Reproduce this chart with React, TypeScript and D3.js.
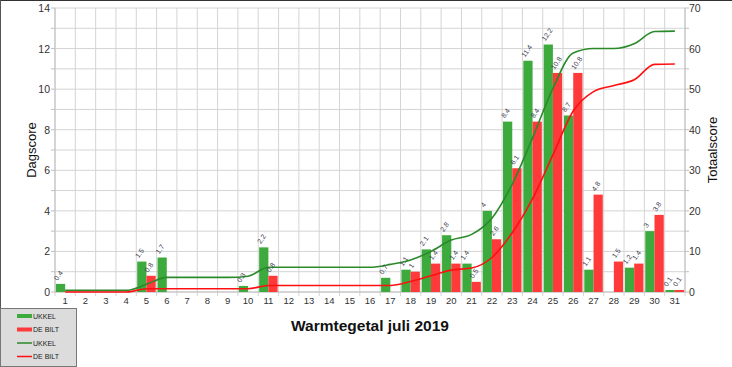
import React from "react";
import * as d3 from "d3";

const days = d3.range(1, 32).map(String);
const ukkelDaily = [0.4,0,0,0,1.5,1.7,0,0,0,0.3,2.2,0,0,0,0,0,0.7,1.1,2.1,2.8,1.4,4,8.4,11.4,12.2,8.7,1.1,0,1.2,3,0.1];
const deBiltDaily = [0,0,0,0,0.8,0,0,0,0,0,0.8,0,0,0,0,0,0,1,1.4,1.4,0.5,2.6,6.1,8.4,10.8,10.8,4.8,1.5,1.4,3.8,0.1];
const leftTicks = [0,2,4,6,8,10,12,14];
const rightTicks = [0,10,20,30,40,50,60,70];
const seriesNames = ["UKKEL", "DE BILT"];

const W = 732, H = 367;
const L = 55, R = 685, T = 8, B = 292;
const barColors = ["#3daa3d", "#ff3a3a"];
const lineColors = ["#2a8a2a", "#ff1010"];

function cumsum(a: number[]) {
  let s = 0;
  return a.map((v) => Math.round((s += v) * 10) / 10);
}

export default function App() {
  const x = d3.scaleBand<string>().domain(days).range([L, R]).padding(0);
  const bw = x.bandwidth();
  const xs = d3.scaleBand<string>().domain(["0", "1"]).range([0, bw]).paddingInner(0).paddingOuter(0.1);
  const yL = d3.scaleLinear().domain([0, 14]).range([B, T]);
  const yR = d3.scaleLinear().domain([0, 70]).range([B, T]);
  const dailies = [ukkelDaily, deBiltDaily];
  const cums = dailies.map(cumsum);
  const line = d3.line<number>()
    .x((_, i) => (x(days[i]) as number) + bw / 2)
    .y((d) => yR(d))
    .curve(d3.curveMonotoneX);
  const fmt = (v: number) => (Number.isInteger(v) ? String(v) : v.toFixed(1));

  return (
    <svg width={W} height={H} style={{ position: "absolute", left: 0, top: 0, fontFamily: "Liberation Sans, Arial, sans-serif" }}>
      <rect x={0} y={0} width={W} height={H} fill="#fff" />
      <line x1={0} x2={W} y1={0.5} y2={0.5} stroke="#333" />
      <line x1={0.5} x2={0.5} y1={0} y2={308} stroke="#555" />
      {d3.range(0, 15).map((v) => (
        <line key={"h" + v} x1={L} x2={R} y1={yL(v)} y2={yL(v)} stroke="#d4d4d4" />
      ))}
      {d3.range(0, 32).map((i) => {
        const xx = L + i * bw;
        return <line key={"v" + i} x1={xx} x2={xx} y1={T} y2={B + 4} stroke="#d4d4d4" />;
      })}
      <line x1={L} x2={L} y1={T} y2={B} stroke="#c0c0c0" />
      <line x1={R} x2={R} y1={T} y2={B} stroke="#c0c0c0" />
      <line x1={L} x2={R} y1={B} y2={B} stroke="#c0c0c0" />
      {d3.range(0, 15).map((v) => (
        <line key={"lt" + v} x1={L - 4} x2={L} y1={yL(v)} y2={yL(v)} stroke="#c0c0c0" />
      ))}
      {d3.range(0, 75, 5).map((v) => (
        <line key={"rt" + v} x1={R} x2={R + 4} y1={yR(v)} y2={yR(v)} stroke="#c0c0c0" />
      ))}
      {leftTicks.map((v) => (
        <text key={"ll" + v} x={L - 5} y={yL(v) + 4} textAnchor="end" fontSize={10.5} fill="#333">{v}</text>
      ))}
      {rightTicks.map((v) => (
        <text key={"rl" + v} x={R + 4} y={yR(v) + 4} textAnchor="start" fontSize={10.5} fill="#333">{v}</text>
      ))}
      {days.map((d) => (
        <text key={"xl" + d} x={(x(d) as number) + bw / 2} y={B + 12} textAnchor="middle" fontSize={9.5} fill="#333">{d}</text>
      ))}
      {dailies.map((arr, s) =>
        arr.map((v, i) =>
          v > 0 ? (
            <rect key={"b" + s + "-" + i}
              x={(x(days[i]) as number) + (xs(String(s)) as number)}
              y={yL(v)} width={xs.bandwidth()} height={B - yL(v)} fill={barColors[s]} />
          ) : null
        )
      )}
      {cums.map((c, s) => (
        <path key={"l" + s} d={line(c) || ""} fill="none" stroke={lineColors[s]} strokeWidth={1.6} />
      ))}
      {dailies.map((arr, s) =>
        arr.map((v, i) => {
          if (v <= 0) return null;
          const cx = (x(days[i]) as number) + (xs(String(s)) as number) + xs.bandwidth() / 2 - 3;
          const cy = yL(v) - 3;
          return (
            <text key={"t" + s + "-" + i} transform={`translate(${cx},${cy}) rotate(-55)`} fontSize={7} fill="#445">
              {fmt(v)}
            </text>
          );
        })
      )}
      <text transform={`translate(36,${(T + B) / 2}) rotate(-90)`} textAnchor="middle" fontSize={13} fill="#111">Dagscore</text>
      <text transform={`translate(717,${(T + B) / 2}) rotate(-90)`} textAnchor="middle" fontSize={13} fill="#111">Totaalscore</text>
      <text x={(L + R) / 2} y={331} textAnchor="middle" fontSize={15.5} fontWeight="bold" fill="#111">Warmtegetal juli 2019</text>
      <rect x={0.5} y={308.5} width={76} height={58} fill="#dcdcdc" stroke="#777" />
      {[0, 1, 2, 3].map((k) => {
        const s = k % 2;
        const isBar = k < 2;
        const yy = 316 + k * 13.5;
        return (
          <g key={"lg" + k}>
            <line x1={17} x2={32} y1={yy} y2={yy} stroke={isBar ? barColors[s] : lineColors[s]} strokeWidth={isBar ? 4 : 1.5} />
            <text x={33} y={yy + 2.5} fontSize={7} fill="#222">{seriesNames[s]}</text>
          </g>
        );
      })}
    </svg>
  );
}
